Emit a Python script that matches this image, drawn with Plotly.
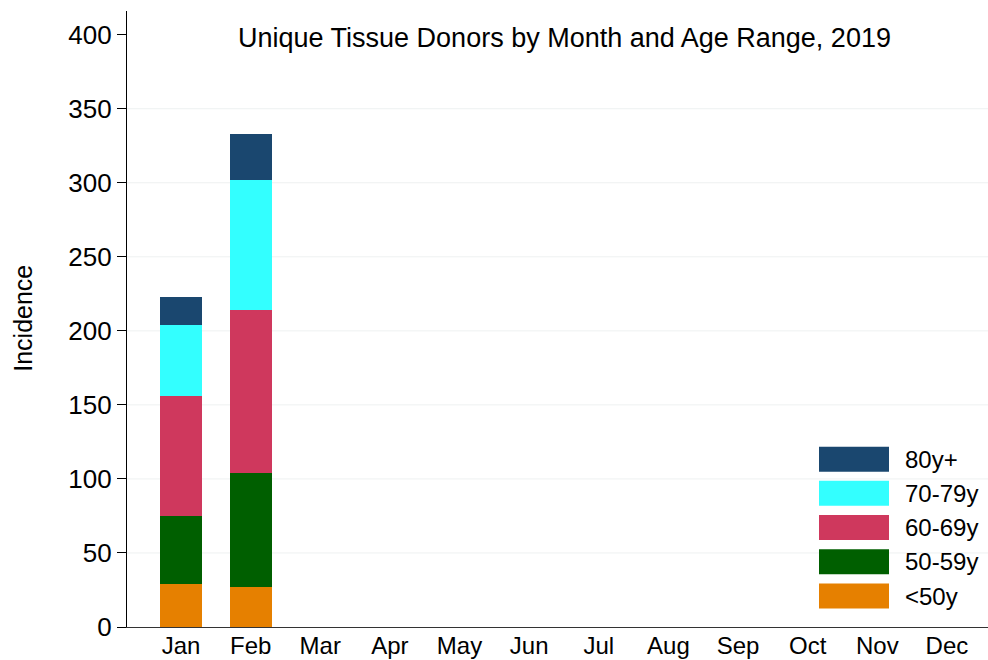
import plotly.graph_objects as go

months = ["Jan", "Feb", "Mar", "Apr", "May", "Jun", "Jul", "Aug", "Sep", "Oct", "Nov", "Dec"]
age_groups = ["<50y", "50-59y", "60-69y", "70-79y", "80y+"]
colors = ["#e68000", "#005f00", "#cf385d", "#33ffff", "#1a476f"]
under50 = [29, 27]
y50_59 = [46, 77]
y60_69 = [81, 110]
y70_79 = [48, 88]
y80plus = [19, 31]
series = [under50, y50_59, y60_69, y70_79, y80plus]
y_ticks = [0, 50, 100, 150, 200, 250, 300, 350, 400]

fig = go.Figure()
for name, vals, col in zip(age_groups, series, colors):
    fig.add_trace(go.Bar(x=months[:len(vals)], y=vals, name=name, marker=dict(color=col, line=dict(width=0)),
                         width=0.6, showlegend=False))

L, R, T, B = 127, 0, 11, 32.5
W, H = 988, 660
pw, ph = W - L - R, H - T - B

def px(x):
    return (x - L) / pw

def py(y):
    return (H - B - y) / ph

FS = 25
shapes = []
annotations = []
# light gridlines at interior ticks (none at the top tick, as in the reference)
for v in y_ticks[1:-1]:
    shapes.append(dict(type="line", xref="paper", yref="y", x0=0, x1=1, y0=v, y1=v,
                       line=dict(color="#eef1f1", width=1), layer="below"))

box_tops = [447, 481.25, 515.5, 549.75, 584]
legend_order = list(reversed(range(len(age_groups))))
for top, idx in zip(box_tops, legend_order):
    shapes.append(dict(type="rect", xref="paper", yref="paper", x0=px(819), x1=px(889),
                       y0=py(top + 25), y1=py(top), fillcolor=colors[idx], line=dict(width=0)))
    annotations.append(dict(xref="paper", yref="paper", x=px(903), y=py(top + 12.5), text=age_groups[idx],
                            showarrow=False, xanchor="left", yanchor="middle",
                            font=dict(size=24, color="black")))

annotations.append(dict(xref="paper", yref="paper", x=px(564), y=py(38),
                        text="Unique Tissue Donors by Month and Age Range, 2019", showarrow=False,
                        xanchor="center", yanchor="middle", font=dict(size=27, color="black")))
annotations.append(dict(xref="paper", yref="paper", x=px(23), y=py(319), text="Incidence", textangle=-90,
                        showarrow=False, xanchor="center", yanchor="middle", font=dict(size=FS, color="black")))

fig.update_layout(
    barmode="stack",
    width=W, height=H,
    margin=dict(l=L, r=R, t=T, b=B, autoexpand=False),
    paper_bgcolor="white", plot_bgcolor="white",
    font=dict(family="Liberation Sans, Arial, sans-serif", size=FS, color="black"),
    shapes=shapes, annotations=annotations,
    xaxis=dict(categoryorder="array", categoryarray=months, range=[-0.776, 11.59],
               showline=True, linecolor="#333333", linewidth=1, ticks="", showgrid=False,
               tickfont=dict(size=24), ticklabelstandoff=-3, automargin=False),
    yaxis=dict(range=[0, 416], tickvals=y_ticks,
               showline=True, linecolor="black", linewidth=1.2, ticks="outside", ticklen=9,
               tickcolor="black", showgrid=False,
               zeroline=False, tickfont=dict(size=26), automargin=False),
)

fig.write_html("out.html", config={"displayModeBar": False},
               post_script="document.body.style.margin='0';document.body.style.padding='0';")
